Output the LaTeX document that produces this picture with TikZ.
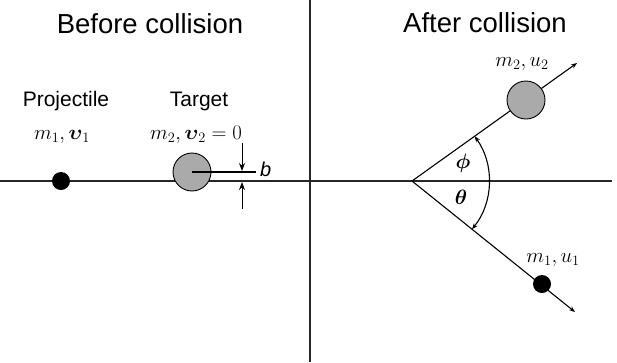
\documentclass[tikz,border=0pt]{standalone}
\usepackage{amsmath}
\usepackage[no-math]{fontspec}
\newfontfamily\arialf{Liberation Sans}
\usetikzlibrary{arrows.meta,calc}
\definecolor{ballgray}{RGB}{170,170,170}
\begin{document}
\begin{tikzpicture}[x=1pt,y=-1pt,
  axis/.style={line width=1.4pt, draw=black!85},
  thin line/.style={line width=1.1pt, draw=black},
  title/.style={font=\arialf\fontsize{27.5}{30}\selectfont, anchor=base, inner sep=0pt},
  lbl/.style={font=\arialf\fontsize{21}{24}\selectfont, anchor=base, inner sep=0pt},
  mlbl/.style={font=\fontsize{20}{24}\selectfont, anchor=base, inner sep=0pt},
  tipline/.style={line width=1.1pt, -{Stealth[length=6pt,width=4.5pt]}},
  barrow/.style={line width=1pt, -{Stealth[length=8pt,width=6pt]}},
  bigball/.style={circle, draw=black, line width=0.9pt, fill=ballgray, minimum size=38pt, inner sep=0pt},
  smallball/.style={circle, fill=black, minimum size=18pt, inner sep=0pt}]
\useasboundingbox (0,0) rectangle (617,362);
% axes
\coordinate (hl) at (0,181);
\coordinate (hr) at (612,181);
\coordinate (vt) at (310,0);
\coordinate (vb) at (310,362);
\draw[axis] (hl) -- (hr);
\draw[axis] (vt) -- (vb);
% titles
\node[title] (t1) at (150,33) {Before collision};
\node[title] (t2) at (485,32) {After collision};
% before
\node[lbl] (proj) at (66,106) {Projectile};
\node[lbl] (targ) at (199,106) {Target};
\node[mlbl] (m1v1) at (62,139) {$m_1, \boldsymbol{\upsilon}_1$};
\node[mlbl] (m2v2) at (196,139) {$m_2, \boldsymbol{\upsilon}_2 = 0$};
\node[smallball] (pball) at (61,181) {};
\node[bigball] (tball) at (192,172) {};
\coordinate (bend) at (256,172);
\draw[thin line] (tball.center) -- (bend);
\node[font=\arialf\itshape\fontsize{20}{24}\selectfont, anchor=base west, inner sep=0pt] (blbl) at (260,176) {b};
\coordinate (ba1) at (242,143);
\coordinate (ba1e) at (242,171);
\coordinate (ba2) at (242,209);
\coordinate (ba2e) at (242,182);
\draw[barrow] (ba1) -- (ba1e);
\draw[barrow] (ba2) -- (ba2e);
% after
\coordinate (o) at (412,181);
\coordinate (up) at (577,63);
\coordinate (dn) at (575,312);
\draw[tipline] (o) -- (up);
\draw[tipline] (o) -- (dn);
\node[bigball] (uball) at (526,100) {};
\node[smallball] (dball) at (542,284) {};
\draw[line width=1.1pt, {Stealth[length=6pt,width=4.5pt]}-{Stealth[length=6pt,width=4.5pt]}]
  ($(o)+(-35.57:77)$) arc[start angle=-35.57, end angle=38.79, radius=77];
\node[mlbl, anchor=center] (phi) at (463,163) {$\boldsymbol{\phi}$};
\node[mlbl, anchor=center] (theta) at (461,197) {$\boldsymbol{\theta}$};
\node[mlbl] (m2u2) at (522,66) {$m_2, u_2$};
\node[mlbl] (m1u1) at (553,262) {$m_1, u_1$};
\end{tikzpicture}
\end{document}
